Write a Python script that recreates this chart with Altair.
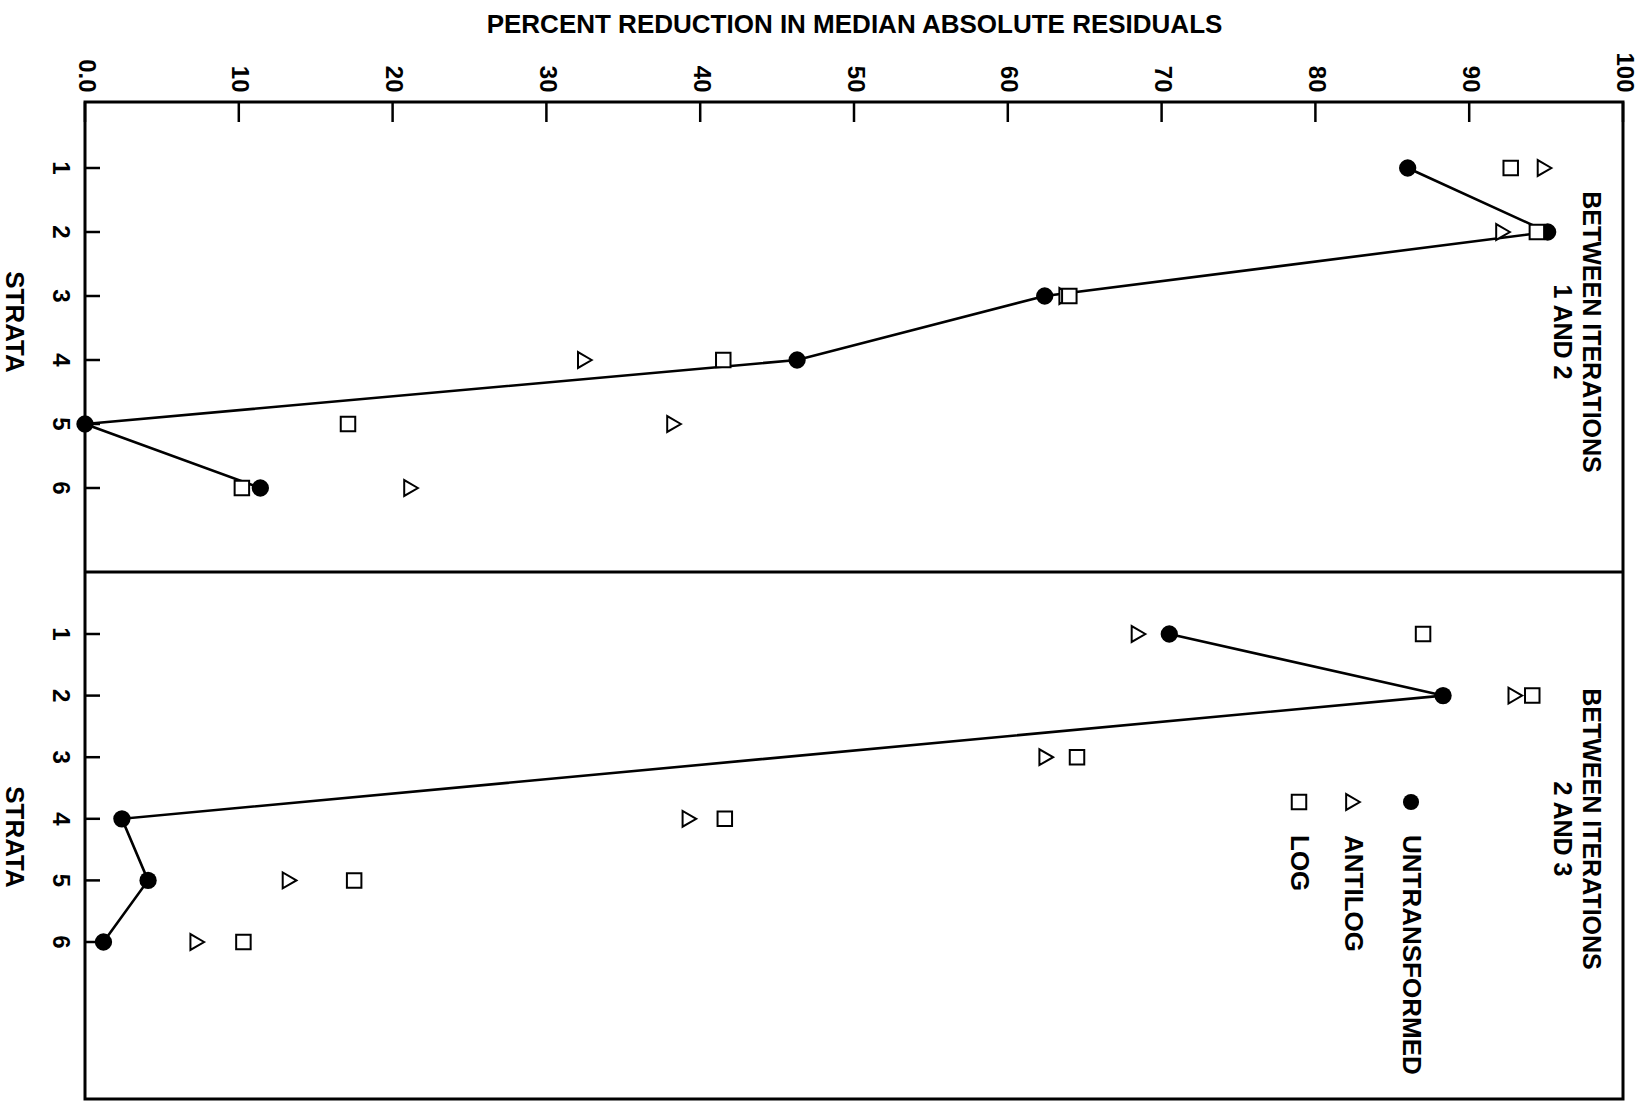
import altair as alt
import pandas as pd

# ---------------- data ----------------
strata = [1, 2, 3, 4, 5, 6]
series_names = ["UNTRANSFORMED", "ANTILOG", "LOG"]

# Panel 1: between iterations 1 and 2
p1_untransformed = [86.0, 95.1, 62.4, 46.3, 0.0, 11.4]
p1_antilog = [94.9, 92.2, 63.8, 32.5, 38.3, 21.2]
p1_log = [92.7, 94.4, 64.0, 41.5, 17.1, 10.2]

# Panel 2: between iterations 2 and 3 (untransformed stratum 3 not plotted)
p2_untransformed = [70.5, 88.3, None, 2.4, 4.1, 1.2]
p2_antilog = [68.5, 93.0, 62.5, 39.3, 13.3, 7.3]
p2_log = [87.0, 94.1, 64.5, 41.6, 17.5, 10.3]

x_ticks = [0, 10, 20, 30, 40, 50, 60, 70, 80, 90, 100]
x_title = "PERCENT REDUCTION IN MEDIAN ABSOLUTE RESIDUALS"
y_title = "STRATA"
panel1_title = ["BETWEEN ITERATIONS", "1 AND 2"]
panel2_title = ["BETWEEN ITERATIONS", "2 AND 3"]
legend_labels = ["UNTRANSFORMED", "ANTILOG", "LOG"]

# ---------------- layout constants ----------------
FONT = "Liberation Sans"
FS = 24
FS_BIG = 26
W, H = 1538, 997
DIV = 470
XTICK = 20   # inward tick length, top axis
YTICK = 15   # inward tick length, strata axis
TICK_COLOR = "black"

def long_df(u, a, l):
    rows = []
    for name, vals in zip(series_names, [u, a, l]):
        for s, v in zip(strata, vals):
            if v is not None:
                rows.append({"stratum": s, "series": name, "value": v})
    return pd.DataFrame(rows)

df1 = long_df(p1_untransformed, p1_antilog, p1_log)
df2 = long_df(p2_untransformed, p2_antilog, p2_log)
strata_df = pd.DataFrame({"stratum": strata})
xt_df = pd.DataFrame({"tick": x_ticks})

xscale = alt.Scale(domain=[0, 100], nice=False, zero=False)
x_axis = alt.Axis(
    orient="top", values=x_ticks,
    ticks=False, domain=False, grid=False,
    labelAngle=90, labelAlign="right", labelBaseline="middle", labelPadding=10,
    labelFont=FONT, labelFontSize=FS, labelFontWeight="bold", labelColor="black",
    labelFlush=False, labelOverlap=False,
    labelExpr="datum.value == 0 ? '0.0' : datum.label", format="d",
    title=x_title, titleFont=FONT, titleFontSize=FS_BIG, titleFontWeight="bold",
    titleColor="black", titleY=-78, titleBaseline="middle", titleAnchor="middle",
)

text_kw = dict(font=FONT, fontWeight="bold", color="black")


def panel(df, yrange, title_lines, title_y, strata_title_y, with_legend):
    ysc = alt.Scale(domain=[1, 6], range=yrange, nice=False, zero=False)
    xe = alt.X("value:Q", scale=xscale, axis=x_axis)
    ye = alt.Y("stratum:Q", scale=ysc, axis=None)
    base = alt.Chart(df)
    line = base.transform_filter("datum.series == 'UNTRANSFORMED'").mark_line(
        color="black", strokeWidth=2.6
    ).encode(x=xe, y=ye, order=alt.Order("stratum:Q"))
    circles = base.transform_filter("datum.series == 'UNTRANSFORMED'").mark_point(
        shape="circle", filled=True, color="black", size=300, opacity=1
    ).encode(x=xe, y=ye)
    tris = base.transform_filter("datum.series == 'ANTILOG'").mark_point(
        shape="triangle-right", filled=True, fill="white", stroke="black",
        strokeWidth=2, size=250, opacity=1
    ).encode(x=xe, y=ye)
    squares = base.transform_filter("datum.series == 'LOG'").mark_point(
        shape="square", filled=True, fill="white", stroke="black",
        strokeWidth=2, size=210, opacity=1
    ).encode(x=xe, y=ye)
    sticks = alt.Chart(strata_df).mark_rule(color=TICK_COLOR, strokeWidth=2.5).encode(
        y=ye, x=alt.value(0), x2=alt.value(YTICK)
    )
    slabels = alt.Chart(strata_df).mark_text(
        angle=90, align="center", baseline="middle", fontSize=FS, **text_kw
    ).encode(
        y=ye, x=alt.value(-25),
        text=alt.Text("stratum:Q", format="d"),
    )
    layers = [line, circles, tris, squares, sticks, slabels]
    for txt, xpos in zip(title_lines, [1506, 1477]):
        layers.append(
            alt.Chart(pd.DataFrame({"t": [txt]})).mark_text(
                angle=90, align="center", baseline="middle", fontSize=25, **text_kw
            ).encode(text="t:N", x=alt.value(xpos), y=alt.value(title_y))
        )
    layers.append(
        alt.Chart(pd.DataFrame({"t": [y_title]})).mark_text(
            angle=90, align="center", baseline="middle", fontSize=FS_BIG, **text_kw
        ).encode(text="t:N", x=alt.value(-71), y=alt.value(strata_title_y))
    )
    if with_legend:
        shapes = [
            dict(shape="circle", filled=True, color="black", size=260),
            dict(shape="triangle-right", filled=False, color="black", strokeWidth=2, size=250),
            dict(shape="square", filled=False, color="black", strokeWidth=2, size=210),
        ]
        for lab, sh, xpos in zip(legend_labels, shapes, [1326, 1268, 1214]):
            layers.append(
                alt.Chart(pd.DataFrame({"t": [lab]})).mark_point(opacity=1, **sh)
                .encode(x=alt.value(xpos), y=alt.value(700))
            )
            layers.append(
                alt.Chart(pd.DataFrame({"t": [lab]})).mark_text(
                    angle=90, align="left", baseline="middle", fontSize=26, **text_kw
                ).encode(text="t:N", x=alt.value(xpos), y=alt.value(733))
            )
    return alt.layer(*layers)


panel1 = panel(df1, [66, 386], panel1_title, 230, 220, False)
panel2 = panel(df2, [532, 840], panel2_title, 727, 735, True)

xticks = alt.Chart(xt_df).mark_rule(color=TICK_COLOR, strokeWidth=2.5).encode(
    x=alt.X("tick:Q", scale=xscale, axis=x_axis), y=alt.value(0), y2=alt.value(XTICK)
)
divider = alt.Chart(pd.DataFrame({"a": [0]})).mark_rule(color="black", strokeWidth=3).encode(
    x=alt.value(0), x2=alt.value(W), y=alt.value(DIV)
)

chart = alt.layer(panel1, panel2, xticks, divider).resolve_scale(y="independent").properties(
    width=W, height=H,
    autosize=alt.AutoSizeParams(type="none"),
    padding={"left": 85, "top": 102, "right": 20, "bottom": 2},
    background="white",
).configure_view(stroke="black", strokeWidth=3)

chart.save("out.html", embed_options={"renderer": "svg", "actions": False})
